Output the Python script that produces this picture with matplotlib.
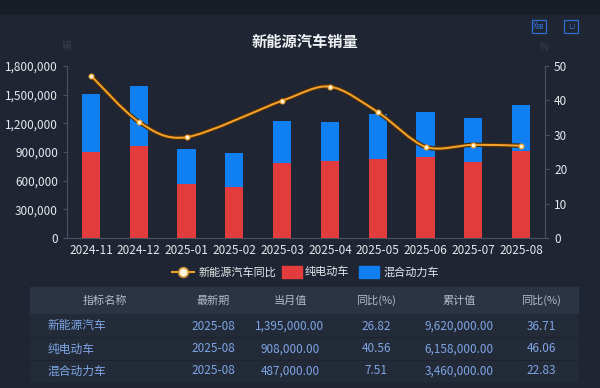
import numpy as np
import matplotlib.pyplot as plt
from matplotlib.path import Path
from matplotlib.patches import PathPatch, Rectangle

plt.rcParams['font.family'] = ['Noto Sans CJK SC', 'DejaVu Sans']

months = ['2024-11', '2024-12', '2025-01', '2025-02', '2025-03',
          '2025-04', '2025-05', '2025-06', '2025-07', '2025-08']
bev = [900000, 965000, 560000, 530000, 790000, 810000, 822000, 848000, 798000, 908000]
hybrid = [610000, 625000, 372000, 358000, 435000, 405000, 478000, 472000, 460000, 487000]
yoy = [47.2, 33.8, 29.3, np.nan, 39.9, 44.0, 36.6, 26.5, 27.1, 26.82]

tab_header = ['指标名称', '最新期', '当月值', '同比(%)', '累计值', '同比(%)']
tab_names = ['新能源汽车', '纯电动车', '混合动力车']
tab_period = ['2025-08', '2025-08', '2025-08']
tab_month = ['1,395,000.00', '908,000.00', '487,000.00']
tab_month_yoy = ['26.82', '40.56', '7.51']
tab_cum = ['9,620,000.00', '6,158,000.00', '3,460,000.00']
tab_cum_yoy = ['36.71', '46.06', '22.83']

bg = '#1f2532'
red = '#e23c3c'
blue = '#0f7ff2'
orange = '#f2a02a'

fig = plt.figure(figsize=(6, 3.88), dpi=100, facecolor=bg)
W, H = 600, 388

def fx(px):
    return px / W

def fy(py):
    return 1 - py / H

# top strip
fig.patches.append(Rectangle((0, fy(14)), 1, 14 / H, transform=fig.transFigure,
                             color='#191d26', zorder=0))

ax = fig.add_axes([fx(67), fy(238), fx(545 - 67), (238 - 66) / H])
ax.set_facecolor(bg)
x = np.arange(len(months))
ax.bar(x, bev, width=0.38, color=red, zorder=2)
ax.bar(x, hybrid, width=0.38, bottom=bev, color=blue, zorder=2)
ax.set_xlim(-0.5, len(months) - 0.5)
ax.set_ylim(0, 1800000)
ax.set_yticks(np.arange(0, 1800001, 300000))
ax.set_yticklabels([f'{v:,}' for v in range(0, 1800001, 300000)])
ax.set_xticks(x)
ax.set_xticklabels(months)
for s in ['top', 'right']:
    ax.spines[s].set_visible(False)
for s in ['left', 'bottom']:
    ax.spines[s].set_color('#4a5263')
ax.tick_params(colors='#4a5263', labelcolor='#e6e8ec', labelsize=8.5, length=3)
ax.tick_params(axis='x', length=0, pad=4)

ax2 = ax.twinx()
ax2.set_ylim(0, 50)
ax2.set_yticks(range(0, 51, 10))
for s in ['top', 'left', 'bottom']:
    ax2.spines[s].set_visible(False)
ax2.spines['right'].set_color('#4a5263')
ax2.tick_params(colors='#4a5263', labelcolor='#e6e8ec', labelsize=8.5, length=3)

# smooth line through the known points (2025-02 has no value)
pts = [(i, v) for i, v in enumerate(yoy) if not np.isnan(v)]
px_ = np.array([p[0] for p in pts], float)
py_ = np.array([p[1] for p in pts], float)
verts = [(px_[0], py_[0])]
codes = [Path.MOVETO]
k = 0.15
n = len(px_)
for i in range(n - 1):
    p0 = (px_[max(i - 1, 0)], py_[max(i - 1, 0)])
    p1 = (px_[i], py_[i])
    p2 = (px_[i + 1], py_[i + 1])
    p3 = (px_[min(i + 2, n - 1)], py_[min(i + 2, n - 1)])
    c1 = (p1[0] + (p2[0] - p0[0]) * k, p1[1] + (p2[1] - p0[1]) * k)
    c2 = (p2[0] - (p3[0] - p1[0]) * k, p2[1] - (p3[1] - p1[1]) * k)
    verts += [c1, c2, p2]
    codes += [Path.CURVE4] * 3
path = Path(verts, codes)
ax2.add_patch(PathPatch(path, fill=False, edgecolor='#4a2e0c', lw=3.2, zorder=3))
ax2.add_patch(PathPatch(path, fill=False, edgecolor=orange, lw=1.5, zorder=4))
ax2.plot(px_, py_, 'o', ms=3.5, mfc='#fff4dc', mec=orange, mew=0.8, zorder=5)

# title and axis names
fig.text(fx(305), fy(42), '新能源汽车销量', ha='center', va='center',
         color='#eef0f3', fontsize=11, fontweight='bold')
fig.text(fx(66), fy(46), '辆', ha='center', va='center', color='#3a4150', fontsize=7)
fig.text(fx(544), fy(47), '%', ha='center', va='center', color='#3a4150', fontsize=7)

# toolbox icons
for x0, lab in [(532, 'X⊞'), (564, '⊔')]:
    fig.patches.append(Rectangle((fx(x0), fy(33)), 14 / W, 13 / H, transform=fig.transFigure,
                                 fill=False, edgecolor='#2f6fd0', lw=0.9))
    fig.text(fx(x0 + 7), fy(26.5), lab, ha='center', va='center', color='#2f6fd0', fontsize=6)

# legend
ly = fy(272)
fig.lines.append(plt.Line2D([fx(172), fx(194)], [ly, ly], transform=fig.transFigure,
                            color=orange, lw=1.5))
fig.lines.append(plt.Line2D([fx(183)], [ly], transform=fig.transFigure, marker='o', ms=7,
                            mfc='#fff4dc', mec='#c9902e', mew=1.2))
fig.text(fx(199), ly, '新能源汽车同比', va='center', color='#e6e8ec', fontsize=8)
fig.patches.append(Rectangle((fx(282), fy(278)), 20 / W, 12 / H, transform=fig.transFigure,
                             color=red))
fig.text(fx(305), ly, '纯电动车', va='center', color='#e6e8ec', fontsize=8)
fig.patches.append(Rectangle((fx(359), fy(278)), 20 / W, 12 / H, transform=fig.transFigure,
                             color=blue))
fig.text(fx(383), ly, '混合动力车', va='center', color='#e6e8ec', fontsize=8)

# table
fig.patches.append(Rectangle((fx(30), fy(314)), 548 / W, 27 / H, transform=fig.transFigure,
                             color='#2b3445'))
fig.patches.append(Rectangle((fx(30), fy(381)), 548 / W, 67 / H, transform=fig.transFigure,
                             color='#232a38'))
for yy in [337, 360]:
    fig.lines.append(plt.Line2D([fx(30), fx(578)], [fy(yy), fy(yy)], transform=fig.transFigure,
                                color='#1d2330', lw=0.8))
col_x = [105, 213, 290, 376, 459, 541]
for cx, h in zip(col_x, tab_header):
    fig.text(fx(cx), fy(300.5), h, ha='center', va='center', color='#b4bac6', fontsize=8)
row_y = [326, 349, 371]
val_color = '#7ea6e6'
for r, ry in enumerate(row_y):
    fig.text(fx(48), fy(ry), tab_names[r], ha='left', va='center', color=val_color, fontsize=8.5)
    vals = [tab_period[r], tab_month[r], tab_month_yoy[r], tab_cum[r], tab_cum_yoy[r]]
    for cx, v in zip(col_x[1:], vals):
        fig.text(fx(cx), fy(ry), v, ha='center', va='center', color=val_color, fontsize=8.5)

fig.savefig('out.png', dpi=100, facecolor=bg)
